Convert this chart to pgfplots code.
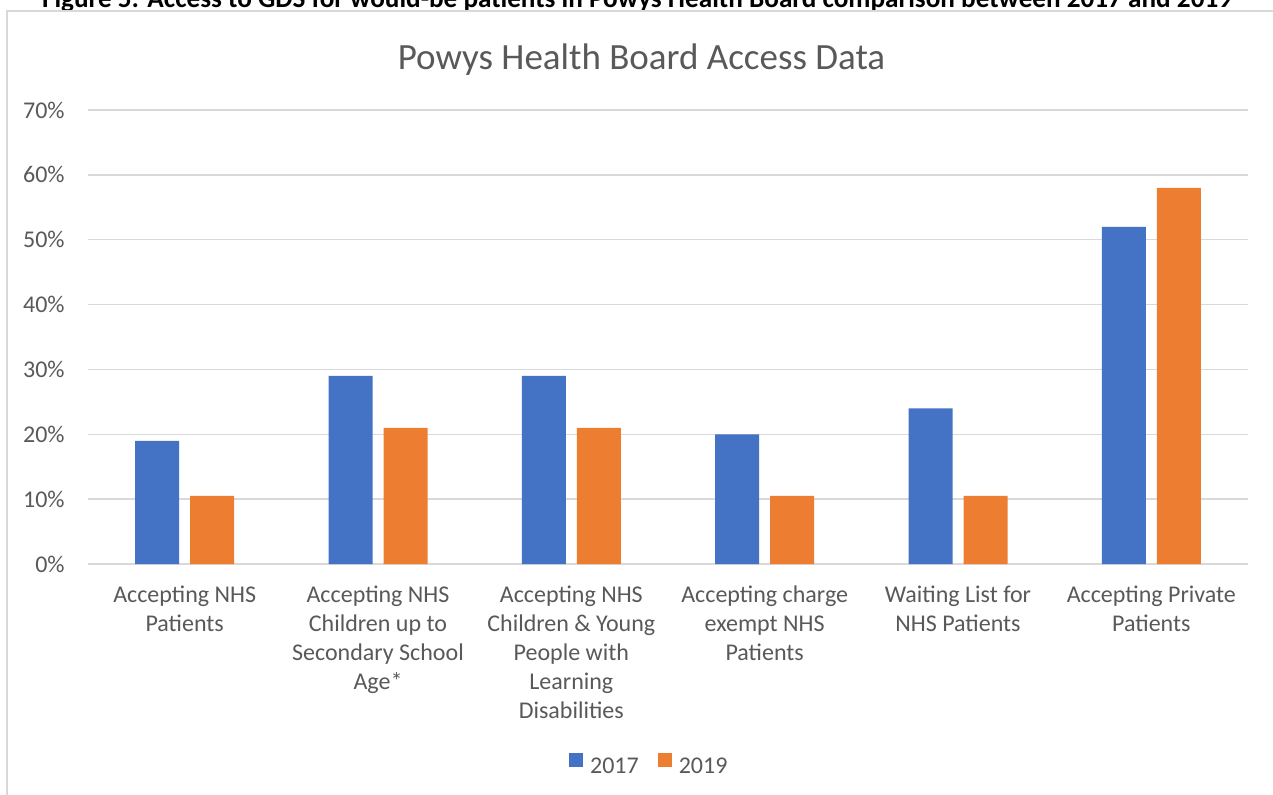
\documentclass[border=0pt]{standalone}
\usepackage{pgfplots}
\pgfplotsset{compat=1.18}
\usepackage{fontspec}
\setmainfont{Carlito}
\definecolor{barblue}{HTML}{4472C4}
\definecolor{barorange}{HTML}{ED7D31}
\definecolor{gridgray}{HTML}{D9D9D9}
\definecolor{labelgray}{HTML}{595959}

\begin{document}
\begin{tikzpicture}
\useasboundingbox (0,0) rectangle (636.5pt,397pt);
% caption of the report, cut off by the top of the picture
\node[anchor=base, inner sep=0pt, font=\bfseries\fontsize{13.6}{16}\selectfont]
  at (318.5pt,393pt) {Figure 5: Access to GDS for would-be patients in Powys Health Board  comparison between 2017 and 2019};
% chart frame
\filldraw[fill=white, draw=gridgray, line width=0.75pt] (3.5pt,-10pt) rectangle (660pt,391.5pt);
% title
\node[anchor=base, inner sep=0pt, text=labelgray, font=\fontsize{18.5}{22}\selectfont]
  at (320.75pt,362pt) {Powys Health Board Access Data};

\begin{axis}[
  at={(44pt,115pt)}, anchor=south west,
  scale only axis, width=580pt, height=227pt,
  ybar=5.5pt, bar width=22pt,
  xmin=-0.5, xmax=5.5,
  ymin=0, ymax=70,
  xtick={0,1,2,3,4,5},
  xticklabels={
    {Accepting NHS\\Patients},
    {Accepting NHS\\Children up to\\Secondary School\\Age*},
    {Accepting NHS\\Children \& Young\\People with\\Learning\\Disabilities},
    {Accepting charge\\exempt NHS\\Patients},
    {Waiting List for\\NHS Patients},
    {Accepting Private\\Patients}},
  ytick={0,10,...,70},
  yticklabels={0\%,10\%,20\%,30\%,40\%,50\%,60\%,70\%},
  xticklabel style={font=\fontsize{12}{14.5}\selectfont, text=labelgray,
    align=center, anchor=north, inner sep=0pt, yshift=-6.5pt},
  yticklabel style={font=\fontsize{12}{14.5}\selectfont, text=labelgray,
    anchor=east, inner sep=0pt, xshift=-11.5pt},
  ymajorgrids, grid style={gridgray, line width=0.75pt},
  axis line style={draw=none},
  major tick style={draw=none},
  legend image code/.code={\fill[#1] (0pt,0pt) rectangle (7pt,7pt);},
  legend style={at={(0.483,-0.4427)}, anchor=center, draw=none,
    legend columns=2, font=\fontsize{12}{14.5}\selectfont, text=labelgray,
    nodes={inner sep=0pt},
    /tikz/every odd column/.append style={column sep=3.5pt},
    /tikz/every even column/.append style={column sep=9.5pt}},
]
\addplot[fill=barblue, draw=none] coordinates {
  (0,19) (1,29) (2,29) (3,20) (4,24) (5,52)
};
\addlegendentry{2017}
\addplot[fill=barorange, draw=none] coordinates {
  (0,10.5) (1,21) (2,21) (3,10.5) (4,10.5) (5,58)
};
\addlegendentry{2019}
\end{axis}
\end{tikzpicture}
\end{document}
